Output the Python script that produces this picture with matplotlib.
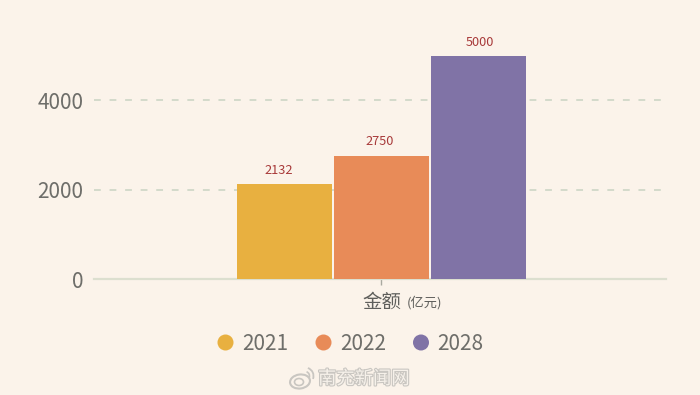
import matplotlib
matplotlib.use('Agg')
import matplotlib.pyplot as plt
import matplotlib.patheffects as pe
from matplotlib.patches import Circle, Ellipse, Arc

years = ['2021', '2022', '2028']
values = [2132, 2750, 5000]
colors = ['#E8B040', '#E88B58', '#8073A6']
yticks = [0, 2000, 4000]
category = '金额'
unit = '(亿元)'
watermark = '南充新闻网'

W, H = 700, 395
BG = '#FBF3EA'
CJK = ['Noto Sans CJK SC', 'DejaVu Sans']
plt.rcParams['font.family'] = CJK

fig = plt.figure(figsize=(W / 100, H / 100), dpi=100, facecolor=BG)
L, R, T, B = 94, 666, 55.5, 279
ax = fig.add_axes([L / W, 1 - B / H, (R - L) / W, (B - T) / H])
ax.set_facecolor('none')
ax.set_xlim(L, R)
ax.set_ylim(0, 5000)
for s in ax.spines.values():
    s.set_visible(False)
ax.spines['bottom'].set_visible(True)
ax.spines['bottom'].set_color('#DCDFCF')
ax.spines['bottom'].set_linewidth(1.6)

bar_w = 95
gap = 97
label_dx = [-3.5, -0.7, 1.5]
label_dy = [-0.5, 1.0, 0.0]
for i, (v, c) in enumerate(zip(values, colors)):
    x = 381 + (i - 1) * gap
    ax.bar(x, v, width=bar_w, color=c, zorder=3)
    ax.annotate(str(v), (x, v), xytext=(label_dx[i], 5.0 + label_dy[i]), textcoords='offset points',
                ha='center', va='bottom', fontsize=9.2, color='#A83A3A', zorder=4)

ax.set_yticks(yticks)
ax.set_xticks([381])
ax.set_xticklabels([''])
ax.tick_params(axis='y', length=0, pad=7.5, labelsize=15, labelcolor='#6E6E6A')
ax.tick_params(axis='x', length=4, width=1, color='#A9A9A0')
ax.grid(axis='y', color='#D3DACB', linewidth=1.4, linestyle=(0, (3.5, 4.5)), zorder=1)
ax.xaxis.grid(False)

fig.text(362 / W, 1 - 302 / H, category, fontsize=14, color='#5F5F5C', ha='left', va='center')
fig.text(407 / W, 1 - 303 / H, unit, fontsize=9.5, color='#5F5F5C', ha='left', va='center')

ov = fig.add_axes([0, 0, 1, 1], facecolor='none')
ov.set_xlim(0, W)
ov.set_ylim(H, 0)
ov.axis('off')
for x, label, c in zip([225.5, 323.5, 421], years, colors):
    ov.add_patch(Circle((x, 342.5), 8, color=c, lw=0))
    ov.text(x + 16.5, 343.5, label, fontsize=15, color='#6E6E6A', ha='left', va='center')

# watermark
WM = '#C9C6C1'
ov.text(318, 379, watermark, fontsize=13.2, color='#F6F1EA', ha='left', va='center',
        path_effects=[pe.withStroke(linewidth=1.6, foreground=WM)])
ov.add_patch(Ellipse((300, 381.5), 20, 14, angle=-8, fill=False, ec=WM, lw=1.5))
ov.add_patch(Ellipse((299, 382), 9, 7, fill=False, ec=WM, lw=1.2))
ov.add_patch(Arc((305, 376), 17, 17, theta1=-70, theta2=20, ec=WM, lw=1.3))
ov.add_patch(Arc((305, 376), 9, 9, theta1=-70, theta2=20, ec=WM, lw=1.2))

fig.savefig('out.png', dpi=100, facecolor=BG)
